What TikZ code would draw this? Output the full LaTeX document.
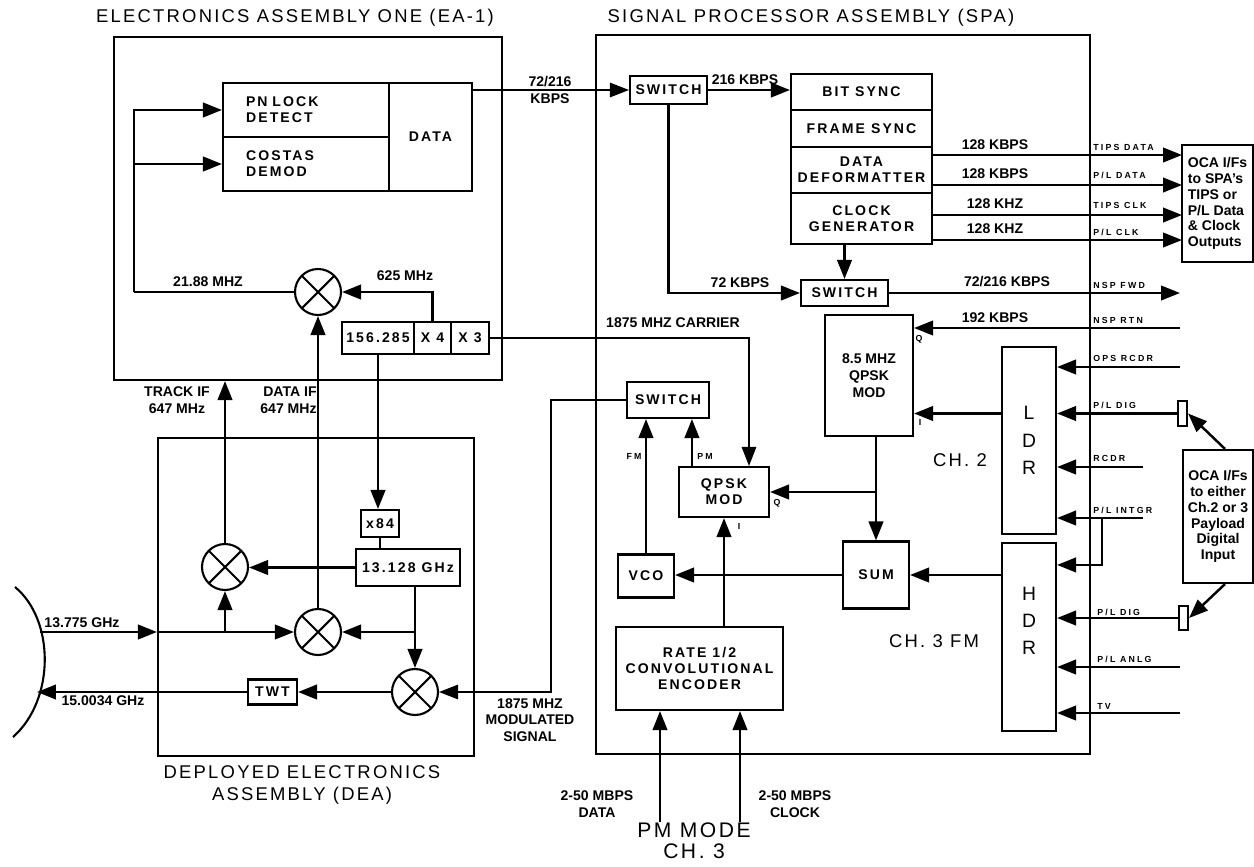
\documentclass[tikz,border=0pt]{standalone}
\usepackage{fontspec}
\setmainfont{Liberation Sans}
\newfontfamily\titlefont[LetterSpace=12]{Liberation Sans}
\newfontfamily\boxfont[LetterSpace=15]{Liberation Sans}
\newfontfamily\sigfont[LetterSpace=25]{Liberation Sans}
\usetikzlibrary{arrows.meta}

\begin{document}
\begin{tikzpicture}[
        x=0.02cm, y=-0.02cm,
        frame/.style={rectangle, draw, line width=1.2pt, inner sep=0pt},
        box/.style={rectangle, draw, line width=1.2pt, inner sep=0pt, align=center, font=\boxfont\bfseries\fontsize{8}{9}\selectfont},
        sz/.style 2 args={minimum width=#1*0.02cm, minimum height=#2*0.02cm},
        mixer/.style={circle, draw, line width=1.2pt, minimum size=0.92cm, inner sep=0pt,
            path picture={\draw[line width=1.2pt] (path picture bounding box.north west) -- (path picture bounding box.south east)
                (path picture bounding box.north east) -- (path picture bounding box.south west);}},
        arrow/.style={-{Triangle[length=3.8mm, width=2.9mm]}, line width=1.4pt},
        wire/.style={line width=1.4pt},
        fine/.style={line width=0.8pt},
        lbl/.style={font=\bfseries\fontsize{8}{9.5}\selectfont, align=center, inner sep=0pt},
        sig/.style={font=\sigfont\bfseries\fontsize{5}{6}\selectfont, anchor=west, inner sep=0pt},
        heading/.style={font=\titlefont\fontsize{10.5}{12.5}\selectfont, align=center, inner sep=0pt}
    ]
        \useasboundingbox (0,0) rectangle (1254,866);

        % Assembly frames and titles
        \node[frame, sz={388}{343}] (ea1) at (308,208.5) {};
        \node[frame, sz={316}{318}] (dea) at (316,597) {};
        \node[frame, sz={494}{719}] (spa) at (843,394.5) {};
        \node[heading] (ea1title) at (295,18) {ELECTRONICS ASSEMBLY ONE (EA-1)};
        \node[heading] (spatitle) at (811,18) {SIGNAL PROCESSOR ASSEMBLY (SPA)};
        \node[heading] (deatitle) at (302,785) {DEPLOYED ELECTRONICS\\ASSEMBLY (DEA)};

        % EA-1 nodes
        \node[box, sz={166}{54}, align=left, text width=2.4cm] (pn) at (306,110) {PN LOCK\\DETECT};
        \node[box, sz={166}{54}, align=left, text width=2.4cm] (costas) at (306,164) {COSTAS\\DEMOD};
        \node[box, sz={83}{108}] (data) at (430.5,137) {DATA};
        \node[mixer] (mixA) at (318,292) {};
        \node[box, sz={72}{32}] (f156) at (378,338) {156.285};
        \node[box, sz={37}{32}] (x4) at (432.5,338) {X 4};
        \node[box, sz={38}{32}] (x3) at (470,338) {X 3};

        % DEA nodes
        \node[box, sz={38}{27}] (x84) at (380,523.5) {x84};
        \node[box, sz={104}{37}] (f13) at (408,567.5) {13.128 GHz};
        \node[mixer] (mixB) at (225,567) {};
        \node[mixer] (mixC) at (318,632) {};
        \node[mixer] (mixD) at (415,692) {};
        \node[box, sz={49}{25}] (twt) at (272.5,692) {TWT};

        % Antenna dish
        \draw[line width=1.2pt] (13,737) .. controls (55,700) and (55,620) .. (15,587);
        \coordinate (dishIn) at (40,632);
        \coordinate (dishOut) at (37,692);

        % SPA nodes
        \node[box, sz={77}{28}] (swA) at (668.5,90) {SWITCH};
        \node[box, sz={141}{36}] (bitsync) at (861.5,92) {BIT SYNC};
        \node[box, sz={141}{37}] (framesync) at (861.5,128.5) {FRAME SYNC};
        \node[box, sz={141}{46}] (deform) at (861.5,170) {DATA\\DEFORMATTER};
        \node[box, sz={141}{51}] (clkgen) at (861.5,218.5) {CLOCK\\GENERATOR};
        \node[box, sz={87}{26}] (swB) at (844.5,293) {SWITCH};
        \node[box, sz={88}{121}, font=\bfseries\fontsize{8}{9.5}\selectfont] (qpsk85) at (869,375.5) {8.5 MHZ\\QPSK\\MOD};
        \node[box, sz={54}{187}, font=\fontsize{11}{15.5}\selectfont] (ldr) at (1029,440.5) {L\\D\\R};
        \node[box, sz={54}{188}] (hdr) at (1029,637) {};
        \node[align=center, inner sep=0pt, font=\fontsize{11}{15.5}\selectfont] (hdrlbl) at (1029,621) {H\\D\\R};
        \node[box, sz={82}{36}] (swC) at (668,400) {SWITCH};
        \node[box, sz={90}{50}] (qpsk) at (724,492) {QPSK\\MOD};
        \node[box, sz={56}{43}] (vco) at (646,576) {VCO};
        \node[box, sz={66}{67}] (sum) at (876,575) {SUM};
        \node[box, sz={167}{83}] (enc) at (699.5,668.5) {RATE 1/2\\CONVOLUTIONAL\\ENCODER};

        % OCA interface boxes and plugs
        \node[box, sz={71}{117}, align=left, font=\bfseries\fontsize{8}{9}\selectfont] (ocaA) at (1217.5,203.5) {OCA I/Fs\\to SPA's\\TIPS or\\P/L Data\\\& Clock\\Outputs};
        \node[box, sz={70}{133}, font=\bfseries\fontsize{8}{9}\selectfont] (ocaB) at (1218,516.5) {OCA I/Fs\\to either\\Ch.2 or 3\\Payload\\Digital\\Input};
        \node[box, sz={9}{25}] (plugA) at (1182.5,413.5) {};
        \node[box, sz={9}{24}] (plugB) at (1183.5,618) {};

        % Signal ends outside the SPA
        \coordinate (tipsdata) at (1182,155);
        \coordinate (pldata) at (1182,185);
        \coordinate (tipsclk) at (1182,215);
        \coordinate (plclk) at (1182,240);
        \coordinate (nspfwd) at (1180,293);
        \coordinate (nsprtn) at (1180,328);
        \coordinate (opsrcdr) at (1180,367);
        \coordinate (rcdr) at (1143,467);
        \coordinate (plintgr) at (1143,518);
        \coordinate (tap) at (1102,518);
        \coordinate (planlg) at (1180,667);
        \coordinate (tv) at (1180,713);
        \coordinate (pmdata) at (660,822);
        \coordinate (pmclk) at (740,822);
        \coordinate (fb) at (134,292);

        % EA-1 arrows
        \draw[wire] (mixA.west) -- (fb);
        \draw[arrow] (fb) |- (pn.west);
        \draw[arrow] (fb) |- (costas.west);
        \draw[arrow] (x4.north) |- (mixA.east);
        \draw[arrow, fine] (x3.east) -| ([xshift=0.5cm]qpsk.north);
        \draw[arrow] (f156.south) -- (f156.south |- x84.north);

        % DEA arrows
        \draw[wire] (x84.south) -- (x84.south |- f13.north);
        \draw[arrow] (f13.west) -- (f13.west -| mixB.east);
        \draw[arrow] (mixB.north) -- (mixB.north |- ea1.south);
        \draw[arrow] (dishIn) -- (dishIn -| dea.west);
        \draw[arrow] (dishIn -| dea.west) -- (mixC.west);
        \draw[arrow] (mixB.south |- mixC.west) -- (mixB.south);
        \draw[arrow] (mixC.north) -- (mixC.north |- mixA.south);
        \draw[arrow] (mixD.north |- f13.south) -- (mixD.north);
        \draw[arrow] (mixD.north |- mixC.east) -- (mixC.east);
        \draw[arrow] (mixD.west) -- (mixD.west -| twt.east);
        \draw[arrow] (twt.west) -- (dishOut);
        \draw[arrow, fine] (swC.west) -- ++(-75,0) |- (mixD.east);

        % SPA arrows
        \draw[arrow, fine] (swA.west -| data.east) -- (swA.west);
        \draw[arrow] (swA.east) -- (swA.east -| bitsync.west);
        \draw[arrow] (swA.south) |- (swB.west);
        \draw[arrow] (swB.north |- clkgen.south) -- (swB.north);
        \foreach \pin in {tipsdata, pldata, tipsclk, plclk}
            \draw[arrow] (clkgen.east |- \pin) -- (\pin);
        \draw[arrow] (swB.east) -- (nspfwd);
        \draw[arrow] (nsprtn) -- (nsprtn -| qpsk85.east);
        \draw[arrow] (opsrcdr) -- (opsrcdr -| ldr.east);
        \draw[arrow] (plugA.west) -- (plugA.west -| ldr.east);
        \draw[arrow] (rcdr) -- (rcdr -| ldr.east);
        \draw[arrow] (plintgr) -- (plintgr -| ldr.east);
        \draw[arrow] (tap) |- ([yshift=-0.46cm]hdr.north east);
        \draw[arrow] (plugB.west) -- (plugB.west -| hdr.east);
        \draw[arrow] (planlg) -- (planlg -| hdr.east);
        \draw[arrow] (tv) -- (tv -| hdr.east);
        \draw[arrow] (plugA -| ldr.west) -- (plugA -| qpsk85.east);
        \draw[arrow] (sum.north |- qpsk85.south) -- (sum.north);
        \draw[arrow] (sum.north |- qpsk.east) -- (qpsk.east);
        \draw[arrow] (sum.east -| hdr.west) -- (sum.east);
        \draw[arrow] (sum.west) -- (sum.west -| vco.east);
        \draw[arrow] (vco.north) -- (vco.north |- swC.south);
        \draw[arrow] ([xshift=0.28cm]qpsk.north west) -- ([xshift=0.28cm]qpsk.north west |- swC.south);
        \draw[arrow] (qpsk.south |- enc.north) -- (qpsk.south);
        \draw[arrow] (pmdata) -- (pmdata |- enc.south);
        \draw[arrow] (pmclk) -- (pmclk |- enc.south);
        \draw[arrow] ([xshift=0.14cm]ocaB.north) -- (plugA.east);
        \draw[arrow] ([xshift=0.14cm]ocaB.south) -- (plugB.east);

        % Frequency and rate labels
        \node[lbl] (l2188) at (208,282) {21.88 MHZ};
        \node[lbl] (l625) at (405,276) {625 MHz};
        \node[lbl] (ltrack) at (177,400) {TRACK IF\\647 MHz};
        \node[lbl, align=right, anchor=east] (ldataif) at (317,400) {DATA IF\\647 MHz};
        \node[lbl] (lcarrier) at (673,323) {1875 MHZ CARRIER};
        \node[lbl] (lrx) at (82,623) {13.775 GHz};
        \node[lbl] (ltx) at (103,701) {15.0034 GHz};
        \node[lbl] (lmod) at (530,720) {1875 MHZ\\MODULATED\\SIGNAL};
        \node[lbl] (l72216) at (550,90) {72/216\\KBPS};
        \node[lbl] (l216) at (745,80) {216 KBPS};
        \node[lbl] (l72) at (740,283) {72 KBPS};
        \node[lbl] (lr1) at (995,145) {128 KBPS};
        \node[lbl] (lr2) at (995,174) {128 KBPS};
        \node[lbl] (lr3) at (995,204) {128 KHZ};
        \node[lbl] (lr4) at (995,229) {128 KHZ};
        \node[lbl] (lfwd) at (1007,282) {72/216 KBPS};
        \node[lbl] (lrtn) at (995,318) {192 KBPS};
        \node[lbl] (lpmdata) at (597,804) {2-50 MBPS\\DATA};
        \node[lbl] (lpmclk) at (795,804) {2-50 MBPS\\CLOCK};

        % Signal names at the SPA edge
        \node[sig] (stipsd) at (1093,147) {TIPS DATA};
        \node[sig] (spld) at (1093,175) {P/L DATA};
        \node[sig] (stipsc) at (1093,205) {TIPS CLK};
        \node[sig] (splc) at (1093,232) {P/L CLK};
        \node[sig] (sfwd) at (1093,285) {NSP FWD};
        \node[sig] (srtn) at (1093,320) {NSP RTN};
        \node[sig] (sops) at (1093,358) {OPS RCDR};
        \node[sig] (sdigA) at (1093,405) {P/L DIG};
        \node[sig] (srcdr) at (1093,458) {RCDR};
        \node[sig] (sintgr) at (1093,510) {P/L INTGR};
        \node[sig] (sdigB) at (1097,612) {P/L DIG};
        \node[sig] (sanlg) at (1097,659) {P/L ANLG};
        \node[sig] (stv) at (1097,706) {TV};

        % Port marks
        \node[sig, anchor=center] (q85) at (919,339) {Q};
        \node[sig, anchor=center] (i85) at (920,422) {I};
        \node[sig, anchor=center] (qmod) at (777,503) {Q};
        \node[sig, anchor=center] (imod) at (739,526) {I};
        \node[sig, anchor=center] (lfm) at (634,456) {FM};
        \node[sig, anchor=center] (lpm) at (705,456) {PM};

        % Channel names
        \node[heading] (ch2) at (960,460) {CH. 2};
        \node[heading] (ch3) at (934,641) {CH. 3 FM};
        \node[heading, font=\titlefont\fontsize{12}{12}\selectfont] (pmmode) at (694,841) {PM MODE\\CH. 3};
    \end{tikzpicture}
\end{document}
